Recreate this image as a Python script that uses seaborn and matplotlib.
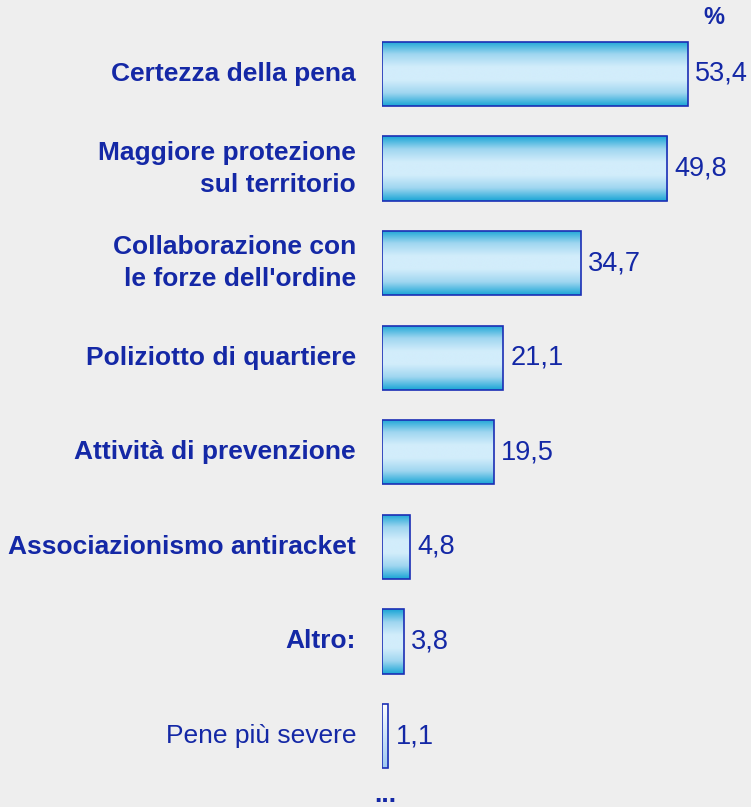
import numpy as np
import pandas as pd
import matplotlib
matplotlib.use("Agg")
import matplotlib.pyplot as plt
from matplotlib.colors import LinearSegmentedColormap
import seaborn as sns

categories = ["Certezza della pena", "Maggiore protezione\nsul territorio",
              "Collaborazione con\nle forze dell'ordine", "Poliziotto di quartiere",
              "Attività di prevenzione", "Associazionismo antiracket", "Altro:",
              "Pene più severe"]
values = [53.4, 49.8, 34.7, 21.1, 19.5, 4.8, 3.8, 1.1]
value_labels = ["53,4", "49,8", "34,7", "21,1", "19,5", "4,8", "3,8", "1,1"]
bold_flags = [True, True, True, True, True, True, True, False]

BG = "#eeeeee"
TXT = "#1428a6"
EDGE = "#1b2fb5"

sns.set_theme(style="white")
plt.rcParams['font.family'] = ['Liberation Sans', 'DejaVu Sans']

fig = plt.figure(figsize=(7.51, 8.07), dpi=100, facecolor=BG)
W, H = 751, 807
left, right = 382, 751
top, bottom = 74 - 47.3, 736 + 47.3
ax = fig.add_axes([left / W, 1 - bottom / H, (right - left) / W, (bottom - top) / H])
ax.set_facecolor("none")

df = pd.DataFrame({"cat": categories, "val": values})
sns.barplot(data=df, y="cat", x="val", orient="h", ax=ax, width=0.68,
            color="#d2edfb", edgecolor=EDGE, linewidth=1.2)

ax.set_xlim(0, (right - left) / 5.73)
ax.set_ylim(len(categories) - 0.5, -0.5)
for s in ax.spines.values():
    s.set_visible(False)
ax.set_xticks([])
ax.set_yticks([])
ax.set_xlabel("")
ax.set_ylabel("")

cmap = LinearSegmentedColormap.from_list("g", ["#19a5d6", "#9fd6f0", "#d2edfb", "#d2edfb", "#9fd6f0", "#19a5d6"])
cmap_last = LinearSegmentedColormap.from_list("g2", ["#ffffff", "#9cc8f0"])
grad = np.linspace(0, 1, 256).reshape(-1, 1)

for i, p in enumerate(ax.patches):
    x0, y0 = p.get_x(), p.get_y()
    w, h = p.get_width(), p.get_height()
    cm = cmap_last if i == len(ax.patches) - 1 else cmap
    im = ax.imshow(grad, cmap=cm, aspect="auto",
                   extent=(x0, x0 + w, y0 + h, y0), zorder=1.5, interpolation="bilinear")
    im.set_clip_path(p)
    p.set_facecolor("none")
    p.set_zorder(2)
    ax.text(x0 + w + 1.3, y0 + h / 2, value_labels[i], color=TXT, fontsize=19.5,
            va="center", ha="left")

ax.set_xlim(0, (right - left) / 5.73)
ax.set_ylim(len(categories) - 0.5, -0.5)

for i, (c, b) in enumerate(zip(categories, bold_flags)):
    ax.text(-26 / 5.73, i, c, color=TXT, fontsize=19, fontweight="bold" if b else "normal",
            ha="right", va="center", linespacing=1.42)

fig.text(714 / W, 1 - 18 / H, "%", color=TXT, fontsize=17, fontweight="bold", ha="center", va="center")
fig.text(385 / W, 1 - 795 / H, "...", color=TXT, fontsize=19, fontweight="bold", ha="center", va="center")

fig.savefig("out.png", dpi=100, facecolor=BG)
